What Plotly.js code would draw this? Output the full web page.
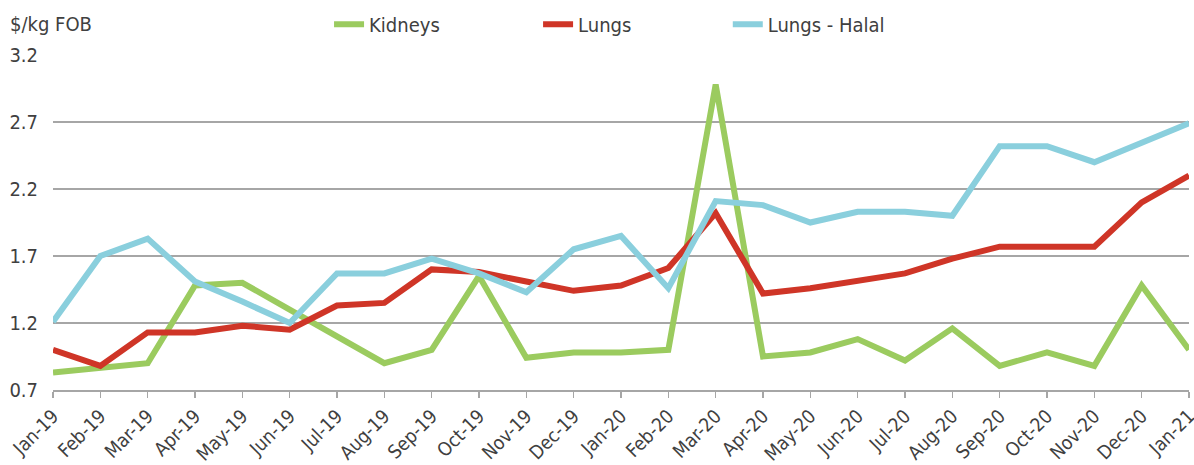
<!DOCTYPE html>
<html>
<head>
<meta charset="utf-8">
<script src="https://cdn.plot.ly/plotly-3.0.1.min.js"></script>
<style>
  html, body { margin: 0; padding: 0; background: #fff; }
  #chart { width: 1194px; height: 465px; }
</style>
</head>
<body>
<div id="chart"></div>
<script>
// Months on the x axis
var months = ["Jan-19", "Feb-19", "Mar-19", "Apr-19", "May-19", "Jun-19", "Jul-19", "Aug-19",
  "Sep-19", "Oct-19", "Nov-19", "Dec-19", "Jan-20", "Feb-20", "Mar-20", "Apr-20", "May-20",
  "Jun-20", "Jul-20", "Aug-20", "Sep-20", "Oct-20", "Nov-20", "Dec-20", "Jan-21"];

// $/kg FOB values
var kidneys = [0.83, 0.87, 0.90, 1.48, 1.50, 1.30, 1.10, 0.90, 1.00, 1.55, 0.94, 0.98, 0.98,
  1.00, 2.98, 0.95, 0.98, 1.08, 0.92, 1.16, 0.88, 0.98, 0.88, 1.48, 1.00];
var lungs = [1.00, 0.88, 1.13, 1.13, 1.18, 1.15, 1.33, 1.35, 1.60, 1.58, 1.51, 1.44, 1.48,
  1.61, 2.02, 1.42, 1.46, 1.51, 1.57, 1.68, 1.77, 1.77, 1.77, 2.10, 2.30];
var lungsHalal = [1.21, 1.70, 1.83, 1.51, 1.36, 1.20, 1.57, 1.57, 1.68, 1.57, 1.43, 1.75, 1.85,
  1.46, 2.11, 2.08, 1.95, 2.03, 2.03, 2.00, 2.52, 2.52, 2.40, 2.55, 2.69];

var textColor = "#404040";
var gridColor = "#a6a6a6";
var fontFamily = "DejaVu Sans Condensed, DejaVu Sans, Verdana, sans-serif";

var data = [
  { x: months, y: kidneys, name: "Kidneys", type: "scatter", mode: "lines",
    line: { color: "#9bcb5f", width: 6 }, legend: "legend" },
  { x: months, y: lungs, name: "Lungs", type: "scatter", mode: "lines",
    line: { color: "#cf3527", width: 6 }, legend: "legend2" },
  { x: months, y: lungsHalal, name: "Lungs - Halal", type: "scatter", mode: "lines",
    line: { color: "#8acfdd", width: 6 }, legend: "legend3" }
];

var legendBase = {
  orientation: "h", xanchor: "left", yanchor: "middle", y: 1.092,
  bgcolor: "rgba(0,0,0,0)", font: { family: fontFamily, size: 20, color: textColor }
};

var layout = {
  width: 1194,
  height: 465,
  margin: { l: 53, r: 5, t: 55, b: 75 },
  paper_bgcolor: "#fff",
  plot_bgcolor: "#fff",
  font: { family: fontFamily, size: 19, color: textColor },
  showlegend: true,
  legend: Object.assign({}, legendBase, { x: 0.243 }),
  legend2: Object.assign({}, legendBase, { x: 0.427 }),
  legend3: Object.assign({}, legendBase, { x: 0.594 }),
  xaxis: {
    type: "category",
    range: [0, 24],
    tickangle: -45,
    ticks: "outside",
    ticklen: 6,
    tickcolor: gridColor,
    tickwidth: 1.5,
    showline: true,
    linecolor: gridColor,
    linewidth: 1.5,
    showgrid: false,
    tickfont: { family: fontFamily, size: 19, color: textColor }
  },
  yaxis: {
    range: [0.7, 3.2001],
    tickvals: [0.7, 1.2, 1.7, 2.2, 2.7, 3.2],
    ticktext: ["0.7", "1.2", "1.7", "2.2", "2.7", "3.2"],
    showgrid: true,
    gridcolor: gridColor,
    gridwidth: 1.5,
    zeroline: false,
    showline: false,
    ticks: "",
    ticklabelstandoff: 14,
    tickfont: { family: fontFamily, size: 20, color: textColor }
  },
  annotations: [
    { text: "$/kg FOB", xref: "paper", yref: "paper", x: -0.04, y: 1.092,
      xanchor: "left", yanchor: "middle", showarrow: false,
      font: { family: fontFamily, size: 20, color: textColor } }
  ]
};

Plotly.newPlot("chart", data, layout, { displayModeBar: false, staticPlot: true });
</script>
</body>
</html>
